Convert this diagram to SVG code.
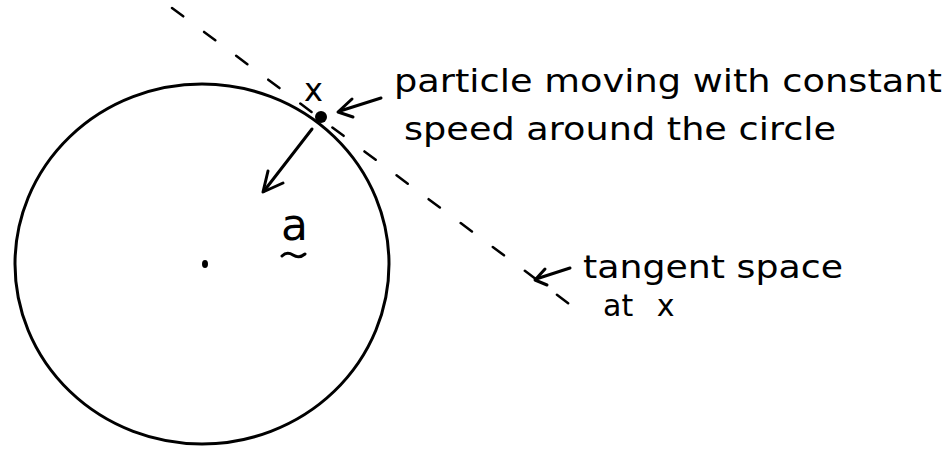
<svg xmlns="http://www.w3.org/2000/svg" width="942" height="455" viewBox="0 0 942 455">
<style>
.ink{fill:none;stroke:#000;stroke-width:3;stroke-linecap:round;stroke-linejoin:round}
.dash{fill:none;stroke:#000;stroke-width:2.5;stroke-dasharray:14 26;stroke-linecap:round}
.lbl{font-family:"DejaVu Sans","Liberation Sans",sans-serif;fill:#000;font-size:32px}
</style>
<rect width="942" height="455" fill="#fff"/>
<g id="tangent-line"><line class="dash" x1="172" y1="8" x2="572" y2="306"/></g>
<g id="circle"><ellipse class="ink" cx="202" cy="264" rx="187" ry="180"/></g>
<g id="center"><ellipse cx="205" cy="264" rx="3" ry="4" fill="#000"/></g>
<g id="particle"><circle cx="321" cy="117" r="6" fill="#000"/>
<text class="lbl" x="304" y="101" style="font-size:32px">x</text></g>
<g id="accel">
<text class="lbl" x="281" y="240" style="font-size:44px">a</text>
<path class="ink" d="M282 256 q5 -5 11 -1 q6 4 12 -1" stroke-width="2.5"/>
</g>
<g id="label-particle">
<text class="lbl" x="394" y="92" textLength="548" lengthAdjust="spacingAndGlyphs">particle moving with constant</text>
<text class="lbl" x="404" y="140" textLength="432" lengthAdjust="spacingAndGlyphs">speed around the circle</text>
</g>
<g id="label-tangent">
<text class="lbl" x="583" y="278" textLength="260" lengthAdjust="spacingAndGlyphs">tangent space</text>
<text class="lbl" x="603" y="316" word-spacing="14" style="font-size:30px">at x</text>
</g>
<g id="connectors">
<path class="ink" d="M312 129 L264 191"/>
<path class="ink" d="M268 171 L263 192 L283 183"/>
<path class="ink" d="M381 98 L340 111"/>
<path class="ink" d="M352 99 L338 112 L353 117"/>
<path class="ink" d="M570 268 L536 279" stroke-width="2.5"/>
<path class="ink" d="M545 269 L535 280 L547 285" stroke-width="2.5"/>
</g>
</svg>
